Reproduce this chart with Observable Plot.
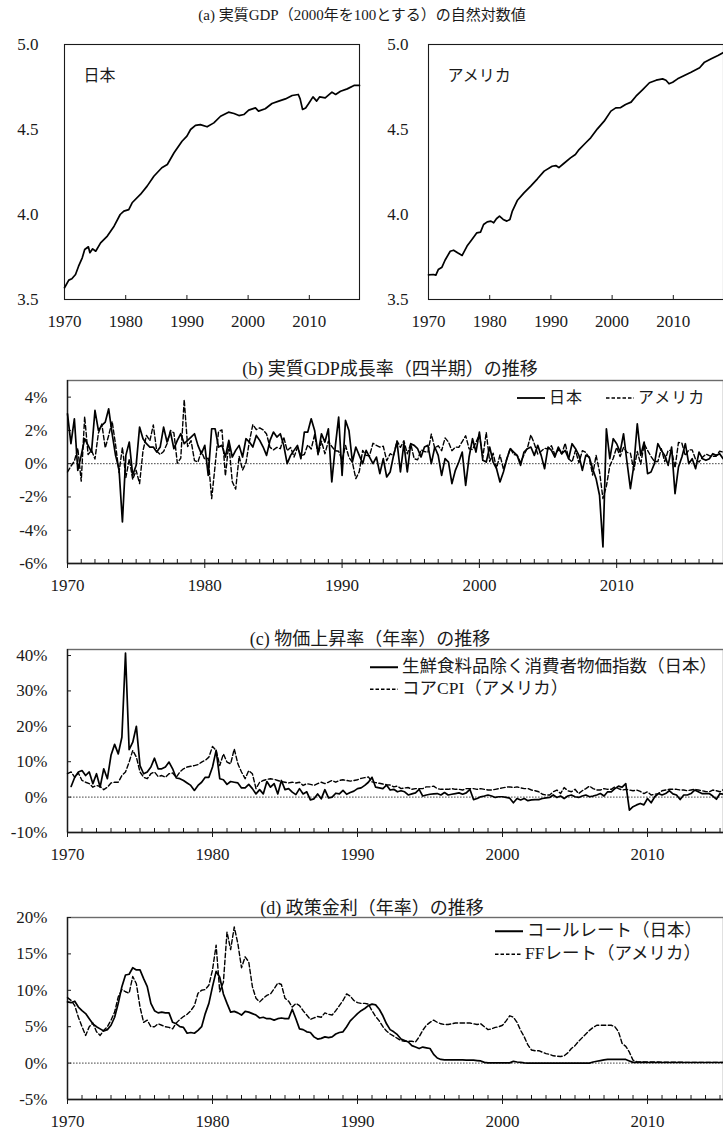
<!DOCTYPE html>
<html><head><meta charset="utf-8">
<script src="https://cdn.jsdelivr.net/npm/d3@7"></script>
<script src="https://cdn.jsdelivr.net/npm/@observablehq/plot@0.6"></script>
<style>
html,body{margin:0;padding:0;background:#fff;}
body{width:723px;height:1134px;overflow:hidden;position:relative;font-family:"Liberation Serif","Noto Sans CJK JP",serif;color:#1a1a1a;}
.title{position:absolute;transform:translate(-50%,-50%);white-space:nowrap;font-size:18px;line-height:1;}
.leg{position:absolute;display:flex;align-items:center;white-space:nowrap;font-size:17.5px;line-height:1;transform:translateY(-50%);}
.leg svg{display:block;margin-right:4px;}
</style></head><body>
<script>
const FONT = "'Liberation Serif','Noto Sans CJK JP',serif";

// ---------- (a) log real GDP ----------
const gdpJpYears = [1970.0,1970.7,1971.2,1971.8,1972.3,1972.9,1973.3,1973.9,1974.15,1974.6,1975.1,1975.9,1977.0,1978.1,1979.1,1979.7,1980.5,1981.05,1982.4,1983.5,1984.6,1985.9,1986.8,1987.9,1989.2,1990.0,1990.6,1991.4,1992.2,1993.3,1994.4,1995.5,1996.8,1997.7,1998.5,1999.3,2000.1,2001.2,2001.7,2002.8,2003.9,2005.0,2006.1,2007.2,2008.2,2008.5,2008.9,2009.4,2009.9,2010.6,2011.2,2011.7,2012.6,2013.7,2014.3,2015.1,2016.2,2017.3,2018.2];
const gdpJp = [3.569,3.614,3.622,3.647,3.696,3.745,3.794,3.810,3.775,3.798,3.784,3.833,3.873,3.931,4.000,4.020,4.029,4.069,4.118,4.167,4.225,4.275,4.294,4.363,4.431,4.461,4.500,4.524,4.529,4.516,4.539,4.578,4.602,4.594,4.582,4.588,4.614,4.627,4.608,4.622,4.653,4.667,4.680,4.700,4.706,4.680,4.618,4.627,4.653,4.692,4.667,4.692,4.686,4.720,4.706,4.725,4.739,4.759,4.759];
const gdpUsYears = [1970.0,1970.8,1971.2,1971.6,1972.2,1972.7,1973.55,1974.1,1974.75,1975.5,1976.3,1977.1,1977.9,1978.5,1979.0,1979.6,1980.2,1980.65,1981.1,1981.6,1982.2,1982.8,1983.3,1983.7,1984.5,1985.6,1986.7,1987.8,1988.9,1990.2,1990.8,1991.3,1992.1,1993.2,1994.0,1994.6,1995.7,1996.5,1997.6,1998.7,1999.8,2000.6,2001.4,2002.2,2003.1,2003.9,2005.0,2006.1,2007.2,2008.25,2008.8,2009.3,2009.9,2010.7,2011.8,2012.9,2014.3,2015.1,2016.2,2017.3,2018.2];
const gdpUs = [3.645,3.647,3.643,3.676,3.690,3.731,3.784,3.790,3.775,3.759,3.814,3.853,3.892,3.896,3.941,3.957,3.961,3.951,3.975,3.990,3.971,3.961,3.971,4.020,4.082,4.127,4.167,4.210,4.255,4.284,4.288,4.276,4.300,4.333,4.353,4.382,4.422,4.451,4.504,4.549,4.608,4.627,4.629,4.647,4.661,4.696,4.735,4.775,4.790,4.798,4.790,4.769,4.778,4.798,4.818,4.837,4.863,4.896,4.916,4.935,4.953];
const gdpYTicks = [3.5, 4.0, 4.5, 5.0];
const decadeTicks = [1970, 1980, 1990, 2000, 2010];

// ---------- (b) quarterly real GDP growth (%), from 1970Q1 ----------
const growthJp = [
3.0,1.2,2.7,-0.4,0.5,1.5,1.1,0.7,3.2,2.0,
2.3,2.5,3.3,1.8,0.5,-0.3,-3.5,0.5,1.3,-0.7,
-0.1,2.2,1.5,1.2,1.0,1.0,0.7,1.0,2.2,1.3,
1.9,0.9,1.4,1.8,1.2,1.4,1.6,1.8,1.1,0.6,
1.1,-0.7,2.1,2.1,1.0,1.1,0.4,1.4,0.4,0.8,
1.1,0.4,1.5,1.3,1.0,1.7,1.4,1.0,0.5,1.4,
1.9,1.6,1.8,1.1,0.0,0.5,0.8,1.1,0.3,1.9,
1.9,2.7,2.0,0.6,1.8,1.3,2.1,-1.1,1.0,2.8,
-0.7,2.6,2.0,0.1,1.0,0.5,0.0,0.8,0.4,0.0,
0.4,-0.6,0.3,-0.8,-0.5,0.5,1.3,-0.5,1.2,-0.5,
1.2,1.1,0.9,0.4,1.0,1.1,0.0,1.0,0.5,-0.7,
0.3,0.1,-1.2,-0.4,0.1,0.7,-1.3,0.4,1.5,0.7,
1.9,0.2,0.1,1.0,0.1,-0.3,-1.1,-0.5,0.3,0.9,
0.7,0.5,-0.1,0.7,0.9,1.0,0.5,1.1,0.5,-0.3,
1.0,0.8,0.4,1.0,0.6,0.8,0.3,1.2,0.9,0.5,
-0.4,0.5,0.4,-0.3,-0.9,-1.9,-5.0,2.1,0.3,1.5,
1.2,0.7,1.8,0.1,-1.5,-0.1,2.4,0.5,1.3,-0.6,
-0.5,0.0,1.2,0.8,0.5,-0.1,1.0,-1.8,-0.2,0.4,
1.2,0.0,0.3,-0.3,0.7,0.3,0.2,0.3,0.6,0.5,
0.6,0.3];
const growthUs = [
-0.5,-0.15,0.15,0.93,-1.05,2.83,0.55,0.8,0.28,1.83,
2.38,0.95,1.7,2.55,1.15,-0.53,0.98,-0.83,0.28,-0.95,
-0.4,-1.2,0.78,1.7,1.38,2.33,0.75,0.55,0.73,1.2,
2.0,1.85,0.03,0.33,3.85,1.03,1.38,0.18,0.1,0.75,
0.25,0.33,-2.1,-0.13,1.93,2.03,-0.73,1.23,-1.08,-1.53,
0.45,-0.38,0.05,1.35,2.35,2.05,2.15,2.03,1.78,0.98,
0.83,0.98,0.9,1.6,0.78,0.98,0.4,0.98,0.48,0.55,
1.13,0.88,1.75,0.53,1.35,0.6,1.35,1.03,0.78,0.75,
0.2,1.1,0.38,0.08,-0.9,-0.48,0.8,0.5,0.48,1.23,
1.1,1.0,1.05,0.18,0.6,0.48,1.38,0.98,1.38,0.6,
1.2,0.3,0.23,0.83,0.73,0.68,1.78,0.93,1.08,0.78,
1.55,1.3,0.78,1.0,0.98,1.33,1.68,0.9,0.85,1.28,
1.75,0.38,1.88,0.13,0.63,-0.28,0.53,-0.33,0.28,0.93,
0.55,0.5,0.08,0.53,0.95,1.73,1.2,0.58,0.75,0.93,
0.88,1.08,0.53,0.85,0.58,1.23,0.3,0.1,0.8,0.05,
0.78,0.68,0.35,-0.68,0.5,-0.48,-2.1,-1.35,-0.13,0.33,
0.98,0.43,0.98,0.68,0.63,-0.38,0.73,-0.03,1.18,0.8,
0.43,0.13,0.13,0.9,0.13,0.8,0.8,-0.25,1.28,1.23,
0.48,0.83,0.83,0.25,0.1,0.38,0.58,0.48,0.45,0.45,
0.75,0.7];
const growthYTicks = [-6, -4, -2, 0, 2, 4];

// ---------- (c) inflation (annualised, %), from 1970Q1 ----------
const cpiJp = [
null,3.0,5.6,7.1,7.5,6.1,7.1,3.8,6.6,2.8,8.0,
5.2,11.8,14.9,12.2,16.9,40.7,13.4,15.5,20.0,8.9,
6.6,7.1,8.5,11.0,8.0,8.0,8.5,9.9,8.0,5.4,
5.2,4.7,4.0,3.3,1.9,3.3,4.2,5.6,5.6,8.5,
13.2,5.2,4.9,3.6,4.4,4.2,4.0,2.6,2.6,3.6,
2.4,0.9,2.1,0.9,4.4,2.8,3.8,0.9,4.7,2.1,
2.4,1.4,0.7,2.4,0.9,1.5,-0.8,-0.5,0.9,-0.5,
2.1,-0.2,0.0,1.1,0.9,1.9,0.8,1.3,1.7,2.4,
2.6,3.3,4.2,5.6,2.8,2.6,2.4,3.4,2.0,2.2,
1.5,1.8,1.5,0.6,0.9,1.2,2.2,0.3,0.6,0.8,
0.9,1.0,0.6,1.3,0.6,0.8,1.0,1.2,0.8,1.2,
2.2,-0.7,-0.4,0.1,0.3,0.6,0.3,-0.1,0.1,0.1,
-0.1,-0.3,-1.6,-0.4,-0.8,-0.4,-1.0,-0.8,-0.7,-0.7,
-0.4,-0.2,-0.1,0.6,-0.1,0.3,-0.4,0.3,0.6,0.1,
-0.1,0.3,0.6,0.1,0.3,0.6,1.0,0.3,1.5,1.5,
2.4,3.1,2.8,3.8,-3.7,-2.7,-2.2,-1.8,-2.2,-0.4,
-1.6,0.1,1.0,0.6,1.0,1.8,0.9,0.6,-0.7,0.6,
0.6,1.0,2.0,1.5,1.0,1.0,1.0,0.3,-0.6,1.0,0.8];
const cpiUs = [
6.6,7.1,5.6,6.8,4.7,4.2,3.8,2.8,3.3,3.0,
2.1,2.8,4.0,4.2,4.2,6.1,7.1,9.9,13.2,11.3,
7.1,5.6,5.2,6.6,7.1,5.8,6.1,5.6,6.6,6.8,
5.6,7.1,8.0,8.5,8.7,8.9,9.2,9.9,10.4,11.3,
14.3,13.2,8.9,12.2,9.9,9.4,13.6,9.4,7.1,5.2,
7.5,6.6,2.4,4.2,4.7,5.0,5.2,5.0,4.7,4.4,
4.2,4.0,4.2,4.0,4.2,3.3,3.8,3.6,3.3,3.8,
4.2,3.8,4.2,4.7,4.2,4.7,4.9,4.7,4.5,4.7,
4.9,5.3,5.5,5.7,4.3,4.1,3.9,3.7,3.5,3.4,
2.9,3.1,2.4,2.6,2.7,2.2,2.4,2.4,2.4,2.9,
2.9,3.1,2.4,2.2,2.2,2.2,2.4,2.2,2.2,2.0,
2.4,2.4,2.4,2.2,2.4,2.2,2.0,2.0,2.2,2.4,
2.6,2.8,2.9,2.7,2.9,2.6,2.4,2.4,2.0,1.8,
1.5,0.8,0.6,0.6,1.5,2.0,1.0,2.7,1.8,1.5,
2.2,1.0,1.8,2.4,3.1,2.4,2.0,2.0,2.4,2.2,
2.2,2.9,2.4,2.0,2.2,2.0,1.8,2.0,1.6,1.0,
1.5,0.6,0.8,1.0,1.8,2.0,2.2,2.2,2.2,2.0,
2.0,1.8,2.0,2.2,2.0,1.8,1.6,1.5,2.0,1.8,1.5,2.2];
const cpiYTicks = [-10, 0, 10, 20, 30, 40];

// ---------- (d) policy rates (%), from 1970Q1 ----------
const callJp = [
8.4,8.3,8.5,7.7,7.2,6.8,6.1,5.4,5.0,4.7,
4.4,4.6,5.2,6.3,8.2,10.5,12.1,12.2,13.1,12.8,
12.8,11.6,10.5,8.2,7.2,6.9,7.0,6.9,6.9,5.6,
5.4,5.0,4.9,4.1,4.2,4.1,4.5,5.0,6.8,8.2,
10.5,12.6,11.8,9.5,8.2,7.0,7.1,6.9,6.6,7.1,
7.0,6.8,6.6,6.2,6.3,6.1,6.1,5.9,6.1,6.2,
6.1,6.1,7.4,6.1,4.7,4.6,4.3,4.2,3.6,3.3,
3.4,3.6,3.5,3.6,4.0,4.2,4.3,5.0,5.8,6.3,
6.8,7.2,7.5,7.9,8.1,8.0,7.4,6.5,5.4,4.6,
4.3,3.9,3.3,3.1,2.9,2.4,2.2,2.0,2.2,2.1,
2.0,1.2,0.7,0.5,0.45,0.45,0.45,0.45,0.45,0.45,
0.4,0.4,0.4,0.35,0.3,0.1,0.03,0.03,0.03,0.03,
0.03,0.03,0.03,0.25,0.15,0.1,0.02,0.0,0.0,0.0,
0.0,0.0,0.0,0.0,0.0,0.0,0.0,0.0,0.0,0.0,
0.0,0.0,0.0,0.0,0.0,0.15,0.25,0.35,0.45,0.5,
0.5,0.5,0.5,0.5,0.5,0.3,0.1,0.1,0.1,0.1,
0.08,0.08,0.08,0.08,0.08,0.08,0.08,0.08,0.08,0.08,
0.08,0.08,0.08,0.08,0.08,0.08,0.08,0.08,0.08,0.08,0.08,0.08];
const ffUs = [
9.0,8.6,7.9,6.3,5.0,3.8,5.0,5.5,4.3,3.8,
4.5,5.0,5.9,7.0,9.1,10.1,9.8,9.6,11.9,10.9,
7.7,5.6,5.9,5.0,5.0,5.4,5.2,5.0,4.9,4.7,
5.5,6.0,6.4,6.7,7.2,7.9,9.6,10.0,10.1,10.7,
12.8,16.2,9.8,11.1,18.0,15.6,18.7,16.4,13.1,14.6,
13.9,10.5,8.9,8.4,8.9,9.3,9.5,10.2,11.0,10.8,
8.9,8.5,7.7,8.2,7.9,7.2,6.6,6.0,6.2,6.4,
6.3,6.9,6.7,6.6,7.2,7.9,8.6,9.5,9.2,8.6,
8.3,8.2,8.2,8.1,7.2,6.4,5.8,5.0,4.4,4.0,
3.7,3.4,3.1,3.0,3.0,3.0,2.9,3.6,4.5,5.2,
5.6,5.9,5.6,5.4,5.3,5.3,5.4,5.5,5.5,5.5,
5.5,5.5,5.4,5.3,5.4,5.0,4.6,4.7,4.9,5.0,
5.2,5.8,6.5,6.3,5.6,4.5,3.6,2.5,1.8,1.7,
1.7,1.5,1.3,1.2,1.0,0.95,0.9,1.0,1.4,2.0,
2.4,3.0,3.5,4.0,4.5,4.9,5.2,5.2,5.2,5.2,
5.2,5.0,4.3,2.7,2.3,1.5,0.4,0.2,0.15,0.15,
0.15,0.15,0.15,0.15,0.12,0.12,0.12,0.12,0.12,0.12,
0.1,0.1,0.1,0.1,0.1,0.1,0.1,0.1,0.1,0.1,0.1,0.1];
const rateYTicks = [-5, 0, 5, 10, 15, 20];

// ---------- text ----------
const titles = {
  a: "(a) 実質GDP（2000年を100とする）の自然対数値",
  b: "(b) 実質GDP成長率（四半期）の推移",
  c: "(c) 物価上昇率（年率）の推移",
  d: "(d) 政策金利（年率）の推移"
};
const namesA = ["日本", "アメリカ"];
const legendB = ["日本", "アメリカ"];
const legendC = ["生鮮食料品除く消費者物価指数（日本）", "コアCPI（アメリカ）"];
const legendD = ["コールレート（日本）", "FFレート（アメリカ）"];

// ---------- helpers ----------
const quarterly = (vals) => vals.map((v, i) => ({x: 1970 + i / 4, y: v})).filter(d => d.y != null);
const paired = (xs, ys) => xs.map((x, i) => ({x, y: ys[i]}));
const styleBase = {fontFamily: FONT, fontSize: "17px", color: "#1a1a1a", background: "transparent", overflow: "visible"};
const solid = {stroke: "#000", strokeWidth: 1.7, strokeLinejoin: "round"};
const dashed = {stroke: "#000", strokeWidth: 1.4, strokeDasharray: "4.5,2.5"};

function place(el, left, top) {
  el.style.position = "absolute"; el.style.left = left + "px"; el.style.top = top + "px";
  document.body.appendChild(el);
}
function title(text, cx, cy, size) {
  const d = document.createElement("div");
  d.className = "title"; d.textContent = text; d.style.left = cx + "px"; d.style.top = cy + "px";
  if (size) d.style.fontSize = size + "px";
  document.body.appendChild(d);
}
function legendItem(text, dash, x, y, w, size, spacing) {
  const d = document.createElement("div");
  d.className = "leg"; d.style.left = x + "px"; d.style.top = y + "px";
  if (size) d.style.fontSize = size + "px";
  if (spacing) d.style.letterSpacing = spacing + "px";
  d.innerHTML = `<svg width="${w}" height="8"><line x1="0" x2="${w}" y1="4" y2="4" stroke="#000" stroke-width="${dash ? 1.4 : 1.8}" ${dash ? 'stroke-dasharray="3.5,2"' : ''}/></svg><span>${text}</span>`;
  document.body.appendChild(d);
}

function gdpPanel(data, label, width, mLeft, pad) {
  return Plot.plot({
    width, height: 300, marginLeft: mLeft, marginRight: width - mLeft - 295, marginTop: 14, marginBottom: 31,
    style: styleBase,
    x: {domain: [1970, 2018.2], label: null, axis: null},
    y: {domain: [3.5, 5.0], label: null, axis: null},
    marks: [
      Plot.frame({stroke: "#1a1a1a", strokeWidth: 1.1}),
      Plot.axisX({ticks: decadeTicks, tickSize: 0, tickPadding: 15, label: null, tickFormat: d => String(d)}),
      Plot.axisX({ticks: decadeTicks, tickSize: 4, dy: -4, label: null, tickFormat: () => ""}),
      Plot.axisY({ticks: gdpYTicks, tickSize: 0, tickPadding: pad, label: null, tickFormat: d => d.toFixed(1)}),
      Plot.line(data, {x: "x", y: "y", ...solid}),
      Plot.text([label], {text: d => d, frameAnchor: "top-left", dx: 19, dy: 25, textAnchor: "start", fontSize: 16, fontFamily: FONT})
    ]
  });
}

function tsPanel({height, mTop, mBottom, xMax, yDomain, yTicks, lines}) {
  const xDomain = [1970, xMax];
  const years = d3.range(1970, Math.floor(xMax) + 1);
  return Plot.plot({
    width: 723, height, marginLeft: 67, marginRight: 0, marginTop: mTop, marginBottom: mBottom,
    style: styleBase,
    x: {domain: xDomain, label: null, axis: null},
    y: {domain: yDomain, label: null, axis: null},
    marks: [
      Plot.frame({stroke: "#6b6b6b", strokeWidth: 1.4}),
      Plot.ruleX([xDomain[0]], {stroke: "#1a1a1a", strokeWidth: 1.3}),
      Plot.ruleY([yDomain[0]], {stroke: "#1a1a1a", strokeWidth: 1.3}),
      Plot.ruleY([0], {stroke: "#333", strokeWidth: 0.9, strokeDasharray: "1.6,1.4"}),
      Plot.axisY({ticks: yTicks, tickSize: 0, tickPadding: 20, label: null, tickFormat: d => d + "%"}),
      Plot.axisY({ticks: yTicks, tickSize: 4, dx: 4, label: null, tickFormat: () => ""}),
      Plot.axisX({ticks: decadeTicks, tickSize: 5, label: null, tickFormat: () => ""}),
      Plot.axisX({ticks: years, tickSize: 4, dy: -4, label: null, tickFormat: () => ""}),
      Plot.axisX({ticks: decadeTicks, tickSize: 0, tickPadding: 15, label: null, tickFormat: d => String(d)}),
      ...lines
    ]
  });
}

// ---------- panel (a) ----------
title(titles.a, 362, 15, 15);
place(gdpPanel(paired(gdpJpYears, gdpJp), namesA[0], 370, 64, 26), 0, 30);
place(gdpPanel(paired(gdpUsYears, gdpUs), namesA[1], 353, 58, 20), 370, 30);

// ---------- panel (b) ----------
place(tsPanel({height: 233, mTop: 10, mBottom: 40, xMax: 2017.78, yDomain: [-6, 5], yTicks: growthYTicks,
  lines: [Plot.line(quarterly(growthUs), {x: "x", y: "y", ...dashed}), Plot.line(quarterly(growthJp), {x: "x", y: "y", ...solid})]}), 0, 370);
title(titles.b, 390, 369);
legendItem(legendB[0], false, 517, 398, 28, 16, 1);
legendItem(legendB[1], true, 606, 398, 28, 16, 1);

// ---------- panel (c) ----------
place(tsPanel({height: 242, mTop: 19, mBottom: 40, xMax: 2015.24, yDomain: [-10, 41.7], yTicks: cpiYTicks,
  lines: [Plot.line(quarterly(cpiUs), {x: "x", y: "y", ...dashed}), Plot.line(quarterly(cpiJp), {x: "x", y: "y", ...solid})]}), 0, 630);
title(titles.c, 370, 639);
legendItem(legendC[0], false, 370, 667, 28);
legendItem(legendC[1], true, 370, 689, 28);

// ---------- panel (d) ----------
place(tsPanel({height: 229, mTop: 12, mBottom: 35, xMax: 2015.24, yDomain: [-5, 20], yTicks: rateYTicks,
  lines: [Plot.line(quarterly(ffUs), {x: "x", y: "y", ...dashed}), Plot.line(quarterly(callJp), {x: "x", y: "y", ...solid})]}), 0, 905);
title(titles.d, 372, 908);
legendItem(legendD[0], false, 495, 931, 28);
legendItem(legendD[1], true, 495, 954, 26);
</script>
</body></html>
